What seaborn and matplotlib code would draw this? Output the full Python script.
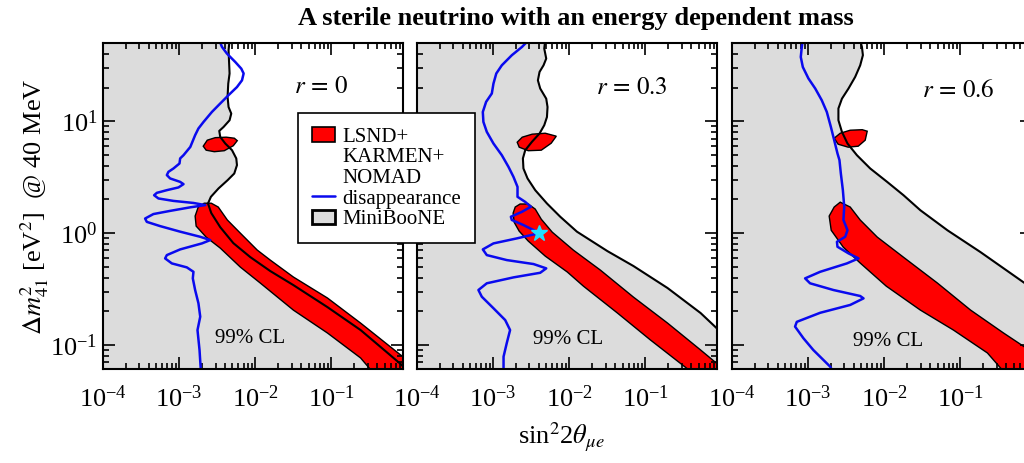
import numpy as np
import matplotlib
matplotlib.use("Agg")
import matplotlib.pyplot as plt
from matplotlib.patches import Patch
from matplotlib.lines import Line2D
from matplotlib.ticker import FixedLocator, LogFormatterMathtext, NullFormatter
import seaborn as sns

x_range = (1e-4, 0.87)
y_range = (0.061, 50)

r_labels = [r"$r\,=\,0$", r"$r\,=\,0.3$", r"$r\,=\,0.6$"]
cl_label = "99% CL"

# ---- r = 0 ----
mb_r0_x = [4.59e-3, 4.45e-3, 4.51e-3, 4.59e-3, 4.41e-3, 4.32e-3, 4.45e-3, 4.83e-3, 4.59e-3,
           3.83e-3, 3.36e-3, 3.46e-3, 4.03e-3, 4.94e-3, 5.62e-3, 5.74e-3, 5.29e-3, 4.32e-3,
           3.29e-3, 2.61e-3, 2.39e-3, 2.64e-3, 3.46e-3, 5.14e-3, 8.59e-3, 1.57e-2, 3.16e-2,
           8.85e-2, 0.241, 0.546, 0.809, 0.970]
mb_r0_y = [52.9, 43.0, 35.0, 26.7, 21.7, 16.5, 13.4, 11.7, 10.2,
           8.89, 8.19, 7.24, 6.32, 5.51, 4.65, 4.05, 3.41, 2.97,
           2.51, 2.11, 1.84, 1.51, 1.13, 0.814, 0.610, 0.458, 0.343,
           0.218, 0.136, 0.0849, 0.0676, 0.0598]

band_r0_x = [2.13e-3, 1.78e-3, 1.62e-3, 1.67e-3, 2.26e-3, 3.46e-3, 6.35e-3, 1.16e-2, 3.16e-2,
             8.85e-2, 0.241, 0.346, 0.514, 1.48, 0.809, 0.241, 8.85e-2, 3.16e-2, 1.57e-2,
             1.06e-2, 6.35e-3, 4.29e-3, 3.26e-3, 2.64e-3]
band_r0_y = [1.85, 1.71, 1.42, 1.155, 0.921, 0.735, 0.497, 0.358, 0.205,
             0.128, 0.0766, 0.0574, 0.0487, 0.0636, 0.0814, 0.157, 0.263, 0.405, 0.574,
             0.705, 1.0, 1.31, 1.71, 1.85]

blob_r0_x = [2.07e-3, 2.34e-3, 2.98e-3, 4.15e-3, 5.30e-3, 5.79e-3, 5.14e-3, 3.91e-3, 2.89e-3, 2.26e-3]
blob_r0_y = [5.98, 6.77, 7.13, 7.20, 7.05, 6.70, 6.04, 5.45, 5.34, 5.51]

dis_r0_x = [3.36e-3, 3.65e-3, 4.24e-3, 5.46e-3, 6.54e-3, 7.02e-3, 6.68e-3, 5.74e-3, 4.45e-3,
            3.46e-3, 2.69e-3, 2.09e-3, 1.79e-3, 1.62e-3, 1.40e-3, 1.14e-3, 1.03e-3, 1.01e-3,
            8.41e-4, 7.23e-4, 6.89e-4, 7.61e-4, 1.03e-3, 1.14e-3, 9.79e-4, 6.89e-4, 5.09e-4,
            4.69e-4, 5.34e-4, 8.41e-4, 1.54e-3, 2.20e-3, 1.40e-3, 7.61e-4, 4.59e-4, 3.57e-4,
            3.76e-4, 5.62e-4, 1.03e-3, 1.89e-3, 2.56e-3, 1.99e-3, 1.03e-3, 6.89e-4, 6.54e-4,
            8.01e-4, 1.26e-3, 1.54e-3, 1.51e-3, 1.62e-3, 1.79e-3, 1.89e-3, 1.74e-3, 1.85e-3,
            1.93e-3]
dis_r0_y = [52.9, 46.1, 40.2, 33.8, 29.5, 26.7, 23.2, 20.2, 17.1,
            14.4, 12.1, 9.86, 8.61, 7.50, 5.89, 4.97, 4.65, 4.19,
            3.78, 3.53, 3.30, 3.08, 2.87, 2.74, 2.56, 2.42, 2.29,
            2.18, 2.04, 1.94, 1.86, 1.78, 1.70, 1.58, 1.48, 1.35,
            1.26, 1.155, 1.03, 0.927, 0.866, 0.809, 0.715, 0.636, 0.594,
            0.536, 0.494, 0.451, 0.394, 0.310, 0.236, 0.179, 0.136, 0.0902,
            0.0574]

# ---- r = 0.3 ----
mb_r3_x = [4.83e-3, 4.69e-3, 4.98e-3, 4.59e-3, 4.07e-3, 3.87e-3, 4.15e-3, 4.98e-3, 5.18e-3,
           5.09e-3, 4.69e-3, 4.07e-3, 3.23e-3, 2.64e-3, 2.46e-3, 2.50e-3, 2.83e-3, 3.57e-3,
           5.09e-3, 7.61e-3, 1.26e-2, 3.16e-2, 6.95e-2, 0.195, 0.530, 0.914]
mb_r3_y = [52.9, 44.6, 36.3, 31.6, 27.6, 23.2, 19.6, 15.9, 13.4,
           10.9, 9.21, 7.77, 6.54, 5.51, 4.65, 3.78, 3.08, 2.42,
           1.84, 1.40, 1.03, 0.691, 0.508, 0.323, 0.193, 0.136]

band_r3_x = [2.26e-3, 1.95e-3, 1.83e-3, 1.89e-3, 2.20e-3, 2.89e-3, 4.83e-3, 9.42e-3, 1.53e-2,
             4.29e-2, 0.116, 0.357, 0.483, 1.53, 0.914, 0.530, 0.195, 6.95e-2, 2.56e-2,
             1.13e-2, 5.97e-3, 4.29e-3, 3.57e-3, 2.89e-3]
band_r3_y = [1.82, 1.71, 1.51, 1.25, 1.04, 0.849, 0.623, 0.449, 0.336,
             0.193, 0.111, 0.0611, 0.0507, 0.0574, 0.0663, 0.0902, 0.157, 0.268, 0.467,
             0.705, 1.02, 1.33, 1.64, 1.82]

blob_r3_x = [2.07e-3, 2.41e-3, 3.26e-3, 4.83e-3, 6.75e-3, 5.79e-3, 4.29e-3, 2.89e-3, 2.20e-3]
blob_r3_y = [6.49, 7.20, 7.66, 7.81, 7.35, 6.36, 5.51, 5.45, 5.86]

dis_r3_x = [2.91e-3, 2.39e-3, 1.76e-3, 1.30e-3, 1.10e-3, 1.01e-3, 9.61e-4, 8.09e-4, 7.32e-4,
            7.45e-4, 8.26e-4, 1.01e-3, 1.30e-3, 1.59e-3, 1.85e-3, 2.09e-3, 2.09e-3, 2.64e-3,
            3.13e-3, 2.39e-3, 1.71e-3, 1.76e-3, 2.50e-3, 4.07e-3, 2.05e-3, 1.01e-3, 7.32e-4,
            8.26e-4, 1.51e-3, 3.39e-3, 4.98e-3, 4.15e-3, 1.85e-3, 8.26e-4, 6.41e-4, 7.10e-4,
            1.01e-3, 1.44e-3, 1.67e-3, 1.51e-3, 1.37e-3, 1.37e-3]
dis_r3_y = [52.9, 46.1, 38.9, 31.6, 26.7, 21.7, 17.7, 14.9, 12.1,
            9.86, 8.03, 6.32, 4.97, 3.91, 3.18, 2.59, 2.11, 1.90,
            1.72, 1.55, 1.40, 1.31, 1.18, 1.0, 0.897, 0.809, 0.715,
            0.636, 0.574, 0.529, 0.484, 0.442, 0.402, 0.356, 0.310, 0.270,
            0.213, 0.167, 0.136, 0.104, 0.0786, 0.0598]

best_fit_x = [4.0e-3]
best_fit_y = [1.0]

# ---- r = 0.6 ----
mb_r6_x = [4.83e-3, 5.09e-3, 5.24e-3, 4.83e-3, 4.15e-3, 3.39e-3, 2.78e-3, 2.50e-3, 2.50e-3,
           2.78e-3, 3.29e-3, 4.37e-3, 6.54e-3, 1.09e-2, 1.79e-2, 2.98e-2, 6.75e-2, 0.183,
           0.695, 1.13]
mb_r6_y = [52.9, 46.1, 38.9, 31.6, 24.9, 19.6, 15.9, 13.0, 10.2,
           8.03, 6.32, 4.97, 3.78, 2.87, 2.18, 1.60, 1.06, 0.677,
           0.358, 0.279]

band_r6_x = [2.64e-3, 2.20e-3, 1.89e-3, 2.01e-3, 2.89e-3, 4.83e-3, 1.06e-2, 2.98e-2, 8.09e-2,
             0.226, 0.336, 0.455, 1.53, 0.695, 0.368, 0.136, 4.98e-2, 1.78e-2, 8.09e-3,
             4.83e-3, 3.57e-3]
band_r6_y = [1.89, 1.71, 1.42, 1.06, 0.750, 0.540, 0.336, 0.205, 0.136,
             0.0849, 0.0623, 0.0507, 0.0598, 0.0960, 0.128, 0.205, 0.358, 0.610, 0.921,
             1.31, 1.71]

blob_r6_x = [2.20e-3, 2.64e-3, 3.57e-3, 5.14e-3, 5.97e-3, 5.62e-3, 4.55e-3, 3.36e-3, 2.48e-3]
blob_r6_y = [7.05, 7.81, 8.31, 8.40, 8.14, 6.77, 5.98, 5.86, 6.23]

dis_r6_x = [8.52e-4, 8.26e-4, 8.01e-4, 8.52e-4, 1.01e-3, 1.24e-3, 1.51e-3, 1.76e-3, 1.99e-3,
            2.20e-3, 2.43e-3, 2.58e-3, 2.69e-3, 2.86e-3, 2.98e-3, 2.91e-3, 3.29e-3, 3.07e-3,
            2.39e-3, 2.43e-3, 3.39e-3, 4.59e-3, 3.23e-3, 1.44e-3, 9.13e-4, 1.06e-3, 2.15e-3,
            4.83e-3, 5.34e-3, 3.57e-3, 1.44e-3, 7.10e-4, 6.74e-4, 8.67e-4, 1.17e-3, 1.95e-3,
            2.13e-3]
dis_r6_y = [52.9, 46.1, 37.5, 30.5, 24.1, 19.6, 15.4, 12.1, 8.89,
            6.77, 5.15, 4.49, 3.41, 2.42, 1.72, 1.31, 1.06, 0.927,
            0.836, 0.755, 0.659, 0.594, 0.536, 0.451, 0.394, 0.356, 0.310,
            0.274, 0.261, 0.228, 0.194, 0.161, 0.146, 0.115, 0.0902, 0.0640,
            0.0574]

GRAY = "#dcdcdc"
RED = "#ff0000"
BLUE = "#0a0aee"

sns.set_theme(style="ticks", rc={"axes.edgecolor": "black", "xtick.color": "black",
                                 "ytick.color": "black", "text.color": "black"})
plt.rcParams["font.family"] = ["Liberation Serif", "DejaVu Serif"]
plt.rcParams["mathtext.fontset"] = "stix"

fig = plt.figure(figsize=(10.24, 4.63), dpi=100)

panel_left = [0.1006, 0.4072, 0.7148]
r_pos = [(0.727, 0.865), (0.717, 0.862), (0.753, 0.853)]
cl_pos = [(0.49, 0.095), (0.503, 0.089), (0.52, 0.083)]

decades = 10.0 ** np.arange(-5, 3)
minor_ticks = np.outer(decades, np.arange(2, 10)).ravel()

panels = [
    (mb_r0_x, mb_r0_y, band_r0_x, band_r0_y, blob_r0_x, blob_r0_y, dis_r0_x, dis_r0_y),
    (mb_r3_x, mb_r3_y, band_r3_x, band_r3_y, blob_r3_x, blob_r3_y, dis_r3_x, dis_r3_y),
    (mb_r6_x, mb_r6_y, band_r6_x, band_r6_y, blob_r6_x, blob_r6_y, dis_r6_x, dis_r6_y),
]

for i, (mbx, mby, bx, by, blx, bly, dx, dy) in enumerate(panels):
    ax = fig.add_axes([panel_left[i], 0.2030, 0.2930, 0.7041])
    ax.set_xscale("log")
    ax.set_yscale("log")
    ax.set_axisbelow(False)
    # MiniBooNE allowed region (left of the black curve)
    ax.fill([x_range[0]] + mbx + [mbx[-1], x_range[0]],
            [mby[0]] + mby + [y_range[0], y_range[0]],
            color=GRAY, lw=0, zorder=1)
    ax.fill(bx, by, facecolor=RED, edgecolor="black", lw=1.0, zorder=2)
    ax.fill(blx, bly, facecolor=RED, edgecolor="black", lw=1.0, zorder=2)
    sns.lineplot(x=mbx, y=mby, sort=False, estimator=None, color="black",
                 lw=1.5, ax=ax, zorder=3)
    sns.lineplot(x=dx, y=dy, sort=False, estimator=None, color=BLUE,
                 lw=1.8, ax=ax, zorder=4)
    if i == 1:
        ax.plot(best_fit_x, best_fit_y, marker="*", color="#22ddff", ms=12,
                mec="#22ddff", ls="none", zorder=5)

    ax.set_xlabel("")
    ax.set_ylabel("")
    for axis in (ax.xaxis, ax.yaxis):
        axis.set_major_locator(FixedLocator(decades))
        axis.set_minor_locator(FixedLocator(minor_ticks))
        axis.set_major_formatter(LogFormatterMathtext())
        axis.set_minor_formatter(NullFormatter())
    ax.set_xlim(*x_range)
    ax.set_ylim(*y_range)
    ax.tick_params(which="both", direction="in", top=True, right=True,
                   bottom=True, left=True, width=1.2, labelsize=19, color="black")
    ax.tick_params(which="major", length=8.5)
    ax.tick_params(which="minor", length=4.5)
    ax.tick_params(axis="x", pad=12)
    ax.tick_params(axis="y", pad=4)
    if i > 0:
        ax.tick_params(labelleft=False)
    for sp in ax.spines.values():
        sp.set_linewidth(1.5)
        sp.set_visible(True)
        sp.set_zorder(6)

    ax.text(r_pos[i][0], r_pos[i][1], r_labels[i], transform=ax.transAxes,
            ha="center", va="center", fontsize=18)
    ax.text(cl_pos[i][0], cl_pos[i][1], cl_label, transform=ax.transAxes,
            ha="center", va="center", fontsize=15)

handles = [Patch(facecolor=RED, edgecolor="black", lw=1.2),
           Patch(facecolor="none", edgecolor="none"),
           Patch(facecolor="none", edgecolor="none"),
           Line2D([], [], color=BLUE, lw=1.8),
           Patch(facecolor=GRAY, edgecolor="black", lw=2)]
labels = ["LSND+", "KARMEN+", "NOMAD", "disappearance", "MiniBooNE"]
leg = fig.legend(handles, labels, loc="upper left", bbox_to_anchor=(0.291, 0.756),
                 frameon=True, fancybox=False, edgecolor="black", framealpha=1,
                 fontsize=15, labelspacing=0.05, handlelength=1.1, handletextpad=0.35,
                 borderpad=0.68, borderaxespad=0)
leg.get_frame().set_linewidth(1.2)

fig.text(0.5625, 0.961, "A sterile neutrino with an energy dependent mass",
         ha="center", va="center", fontsize=19, fontweight="bold")
fig.text(0.548, 0.056, r"sin$^2$2$\theta_{\mu e}$", ha="center", va="center", fontsize=19)
fig.text(0.034, 0.553, r"$\Delta m^2_{41}$ [eV$^2$]  @ 40 MeV", ha="center", va="center",
         rotation=90, fontsize=19)

fig.savefig("out.png", dpi=100)
